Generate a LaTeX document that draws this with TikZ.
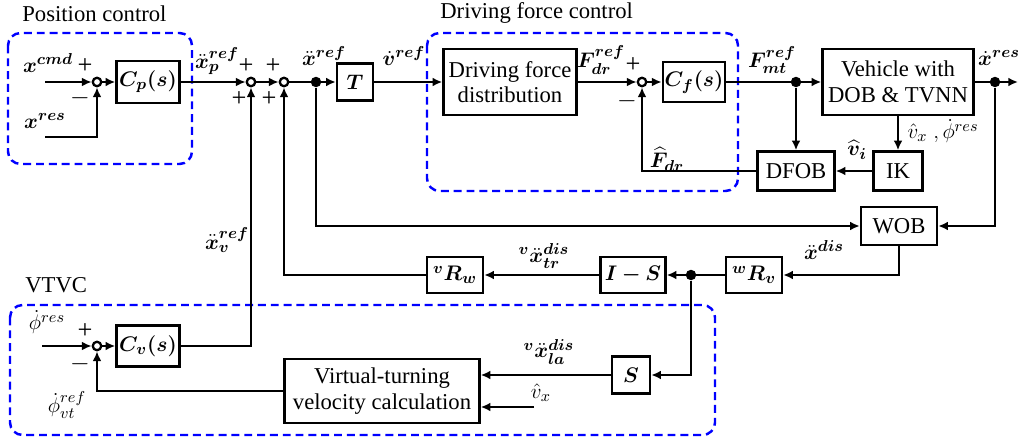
\documentclass[tikz,border=0pt]{standalone}
\usepackage{fontspec}
\setmainfont{Liberation Serif}
\newfontfamily\tnr{Liberation Serif}
\usepackage{amsmath}
\usepackage{bm}
\usetikzlibrary{arrows.meta}
\usetikzlibrary{calc}

\tikzset{
  blk/.style={draw, line width=1.4pt, inner sep=1pt, align=center, font=\tnr\fontsize{12.9}{14.5}\selectfont},
  sumc/.style={circle, draw, line width=1.3pt, inner sep=0pt, minimum size=0.17cm},
  jdot/.style={circle, fill, inner sep=0pt, minimum size=0.21cm},
  grp/.style={draw=blue, line width=1.4pt, dash pattern=on 4.5pt off 2.8pt, rounded corners=0.25cm},
  sig/.style={-{Latex[length=5.5pt,width=5pt]}, line width=1.4pt},
  lbl/.style={inner sep=0pt, font=\tnr\fontsize{12.9}{14.5}\selectfont},
  sgn/.style={inner sep=0pt, font=\tnr\fontsize{15}{16}\selectfont},
}

\begin{document}
\begin{tikzpicture}[x=0.02cm,y=-0.02cm]
\useasboundingbox (0,0) rectangle (1020,439);

\draw[grp] (8,33) rectangle (192,164);
\draw[grp] (427,33) rectangle (738,191);
\draw[grp] (10,305) rectangle (715,435);
\node[lbl,anchor=west] (lpos) at (22,14) {Position control};
\node[lbl,anchor=west] (ldfc) at (440,13) {Driving force control};
\node[lbl,anchor=west] (lvtvc) at (25,285) {VTVC};

\node[blk,minimum width=1.26cm,minimum height=0.84cm] (Cp) at (148,82) {$\bm{C_p(s)}$};
\node[blk,minimum width=0.72cm,minimum height=0.74cm] (T) at (355,82) {$\bm{T}$};
\node[blk,minimum width=2.66cm,minimum height=1.32cm] (DFD) at (510,82) {Driving force\\distribution};
\node[blk,minimum width=1.22cm,minimum height=0.8cm] (Cf) at (694,82) {$\bm{C_f(s)}$};
\node[blk,minimum width=3.02cm,minimum height=1.32cm] (Veh) at (898,82) {Vehicle with\\DOB \& TVNN};
\node[blk,minimum width=1.54cm,minimum height=0.78cm] (DFOB) at (796,171) {DFOB};
\node[blk,minimum width=0.98cm,minimum height=0.78cm] (IK) at (898,171) {IK};
\node[blk,minimum width=1.52cm,minimum height=0.76cm] (WOB) at (899,226) {WOB};
\node[blk,minimum width=1.12cm,minimum height=0.72cm] (wRv) at (754,275) {$\bm{{}^{w}R_{v}}$};
\node[blk,minimum width=1.3cm,minimum height=0.72cm] (IS) at (633,275) {$\bm{I-S}$};
\node[blk,minimum width=1.12cm,minimum height=0.72cm] (vRw) at (455,275) {$\bm{{}^{v}R_{w}}$};
\node[blk,minimum width=0.76cm,minimum height=0.74cm] (S) at (631,375) {$\bm{S}$};
\node[blk,minimum width=3.9cm,minimum height=1.28cm] (VTVC) at (382,391) {Virtual-turning\\velocity calculation};
\node[blk,minimum width=1.26cm,minimum height=0.82cm] (Cv) at (148,346) {$\bm{C_v(s)}$};

\node[sumc] (s1) at (97,82) {};
\node[sumc] (s2) at (251,82) {};
\node[sumc] (s3) at (284,82) {};
\node[sumc] (s4) at (642,82) {};
\node[sumc] (s5) at (97,346) {};

\node[jdot] (d1) at (316,82) {};
\node[jdot] (d2) at (796,82) {};
\node[jdot] (d3) at (995,82) {};
\node[jdot] (d4) at (691,275) {};

\coordinate (xcmd) at (45,82);
\coordinate (xres) at (45,137);
\coordinate (out) at (1018,82);
\coordinate (phir) at (42,346);
\coordinate (vx) at (534,407);

\draw[sig] (xcmd) -- (s1);
\draw[sig] (xres) -| (s1);
\draw[sig] (s1) -- (Cp);
\draw[sig] (Cp) -- (s2);
\draw[sig] (s2) -- (s3);
\draw[sig] (s3) -- (T);
\draw[sig] (T) -- (DFD);
\draw[sig] (DFD) -- (s4);
\draw[sig] (s4) -- (Cf);
\draw[sig] (Cf) -- (Veh);
\draw[sig] (Veh) -- (out);
\draw[sig] (d2) -- (DFOB);
\draw[sig] (Veh) -- (IK);
\draw[sig] (IK) -- (DFOB);
\draw[sig] (DFOB) -| (s4);
\draw[sig] (d3) |- (WOB);
\draw[sig] (d1) |- (WOB);
\draw[sig] (WOB) |- (wRv);
\draw[sig] (wRv) -- (IS);
\draw[sig] (IS) -- (vRw);
\draw[sig] (vRw) -| (s3);
\draw[sig] (d4) |- (S);
\draw[sig] (S) -- (VTVC.east |- S);
\draw[sig] (vx) -- (VTVC.east |- vx);
\draw[sig] (VTVC) -| (s5);
\draw[sig] (phir) -- (s5);
\draw[sig] (s5) -- (Cv);
\draw[sig] (Cv) -| (s2);

\node[lbl] (lxcmd) at (48,63) {$\bm{x^{cmd}}$};
\node[lbl] (lxres) at (45,121) {$\bm{x^{res}}$};
\node[sgn] (p1) at (85,66) {+};
\node[sgn] (m1) at (80,98) {$-$};
\node[lbl] (lxp) at (217,61) {$\bm{\ddot{x}_p^{ref}}$};
\node[sgn] (p2) at (246,66) {+};
\node[sgn] (p3) at (239,99) {+};
\node[sgn] (p4) at (273,66) {+};
\node[sgn] (p5) at (269,99) {+};
\node[lbl] (lxref) at (324,56) {$\bm{\ddot{x}^{ref}}$};
\node[lbl] (lvref) at (404,56) {$\bm{\dot{v}^{ref}}$};
\node[lbl] (lfdr) at (601,60) {$\bm{F_{dr}^{ref}}$};
\node[sgn] (p6) at (633,65) {+};
\node[sgn] (m2) at (627,101) {$-$};
\node[lbl] (lfmt) at (772,60) {$\bm{F_{mt}^{ref}}$};
\node[lbl] (lxdres) at (999,58) {$\bm{\dot{x}^{res}}$};
\node[lbl] (lvxphi) at (943,131) {$\hat{v}_x\ ,\dot{\phi}^{res}$};
\node[lbl] (lvi) at (857,150) {$\bm{\widehat{v}_i}$};
\node[lbl] (lfhat) at (667,159) {$\bm{\widehat{F}_{dr}}$};
\node[lbl] (lxv) at (227,240) {$\bm{\ddot{x}_v^{ref}}$};
\node[lbl] (lxdis) at (824,250) {$\bm{\ddot{x}^{dis}}$};
\node[lbl] (lxtr) at (544,256) {$\bm{{}^{v}\ddot{x}_{tr}^{dis}}$};
\node[lbl] (lxla) at (549,352) {$\bm{{}^{v}\ddot{x}_{la}^{dis}}$};
\node[lbl] (lvx) at (541,393) {$\hat{v}_x$};
\node[lbl] (lphir) at (47,322) {$\dot{\phi}^{res}$};
\node[sgn] (p7) at (85,331) {+};
\node[sgn] (m3) at (80,364) {$-$};
\node[lbl] (lphivt) at (67,405) {$\dot{\phi}_{vt}^{ref}$};

\end{tikzpicture}
\end{document}
